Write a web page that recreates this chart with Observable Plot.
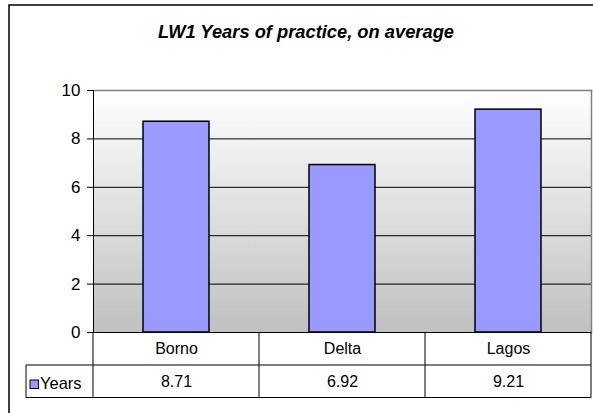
<!DOCTYPE html>
<html><head><meta charset="utf-8">
<script src="https://cdn.jsdelivr.net/npm/d3@7"></script>
<script src="https://cdn.jsdelivr.net/npm/@observablehq/plot@0.6"></script>
<style>body{margin:0;background:#fff} svg{display:block}</style>
</head><body><div id="chart"></div>
<script>
const categories = ["Borno", "Delta", "Lagos"];
const values = [8.71, 6.92, 9.21];
const valueLabels = ["8.71", "6.92", "9.21"];
const seriesName = "Years";
const yTicks = [0, 2, 4, 6, 8, 10];
const title = "LW1 Years of practice, on average";

const data = categories.map((c, i) => ({category: c, value: values[i], label: valueLabels[i]}));
const font = "'Liberation Sans', Arial, sans-serif";

const plot = Plot.plot({
  width: 593, height: 413,
  marginLeft: 93, marginRight: 2, marginTop: 90, marginBottom: 81,
  style: {fontFamily: font, background: "transparent", color: "#000", overflow: "visible"},
  x: {domain: categories, paddingInner: 0.6, paddingOuter: 0.3, axis: null},
  y: {domain: [0, 10], ticks: yTicks, axis: null},
  marks: [
    Plot.frame({fill: "url(#plotbg)", stroke: null}),
    Plot.gridY(yTicks, {stroke: "#000", strokeOpacity: 1}),
    Plot.frame({anchor: "top", stroke: "#808080", strokeWidth: 1.5}),
    Plot.frame({anchor: "right", stroke: "#808080", strokeWidth: 1.5}),
    Plot.barY(data, {x: "category", y: "value", fill: "#9999FF", stroke: "#000", strokeWidth: 1.5}),
    Plot.axisY({ticks: yTicks, tickSize: 6, tickPadding: 7, fontSize: 17, stroke: "#000", fill: "#000", label: null}),
    Plot.frame({anchor: "left", stroke: "#000"}),
    Plot.ruleY([0], {stroke: "#000"}),
    Plot.text(data, {x: "category", text: "category", frameAnchor: "bottom", dy: 16.5, fontSize: 16, lineAnchor: "middle", fill: "#000"}),
    Plot.text(data, {x: "category", text: "label", frameAnchor: "bottom", dy: 49, fontSize: 16, lineAnchor: "middle", fill: "#000"})
  ]
});

const svg = d3.select(plot);

// outer chart border (behind everything)
svg.insert("rect", ":first-child").attr("x", 9).attr("y", 5).attr("width", 610).attr("height", 430)
  .attr("fill", "#fff").attr("stroke", "#000").attr("stroke-width", 1.5);

const defs = svg.insert("defs", ":first-child");
const g = defs.append("linearGradient").attr("id", "plotbg").attr("x1", 0).attr("y1", 0).attr("x2", 0).attr("y2", 1);
g.append("stop").attr("offset", "0%").attr("stop-color", "#ffffff");
g.append("stop").attr("offset", "100%").attr("stop-color", "#c0c0c0");

// title
svg.append("text").attr("x", 306).attr("y", 38).attr("text-anchor", "middle")
  .attr("font-family", font).attr("font-size", 19).attr("font-weight", "bold").attr("font-style", "italic")
  .attr("textLength", 296).attr("lengthAdjust", "spacingAndGlyphs")
  .text(title);

// data table lines from scales
const xs = plot.scale("x"), ys = plot.scale("y");
const gap = (xs.step - xs.bandwidth) / 2;
const edges = categories.map(c => xs.apply(c) - gap);
edges.push(xs.apply(categories[categories.length - 1]) - gap + xs.step);
const y0 = ys.apply(0), y1 = y0 + 33, y2 = y0 + 65.5;
const legendLeft = 26;
const tl = svg.append("g").attr("stroke", "#000").attr("stroke-width", 1).attr("fill", "none");
tl.append("line").attr("x1", legendLeft).attr("x2", edges[edges.length - 1]).attr("y1", y1).attr("y2", y1);
tl.append("line").attr("x1", legendLeft).attr("x2", edges[edges.length - 1]).attr("y1", y2).attr("y2", y2);
tl.append("line").attr("x1", legendLeft).attr("x2", legendLeft).attr("y1", y1).attr("y2", y2);
edges.forEach(x => tl.append("line").attr("x1", x).attr("x2", x).attr("y1", y0).attr("y2", y2));

// legend key
svg.append("rect").attr("x", 30).attr("y", 380).attr("width", 8.5).attr("height", 8.5)
  .attr("fill", "#9999FF").attr("stroke", "#000").attr("stroke-width", 1);
svg.append("text").attr("x", 40).attr("y", 388.5).attr("text-anchor", "start")
  .attr("font-family", font).attr("font-size", 16.5).text(seriesName);

document.getElementById("chart").appendChild(plot);
</script>
</body></html>
